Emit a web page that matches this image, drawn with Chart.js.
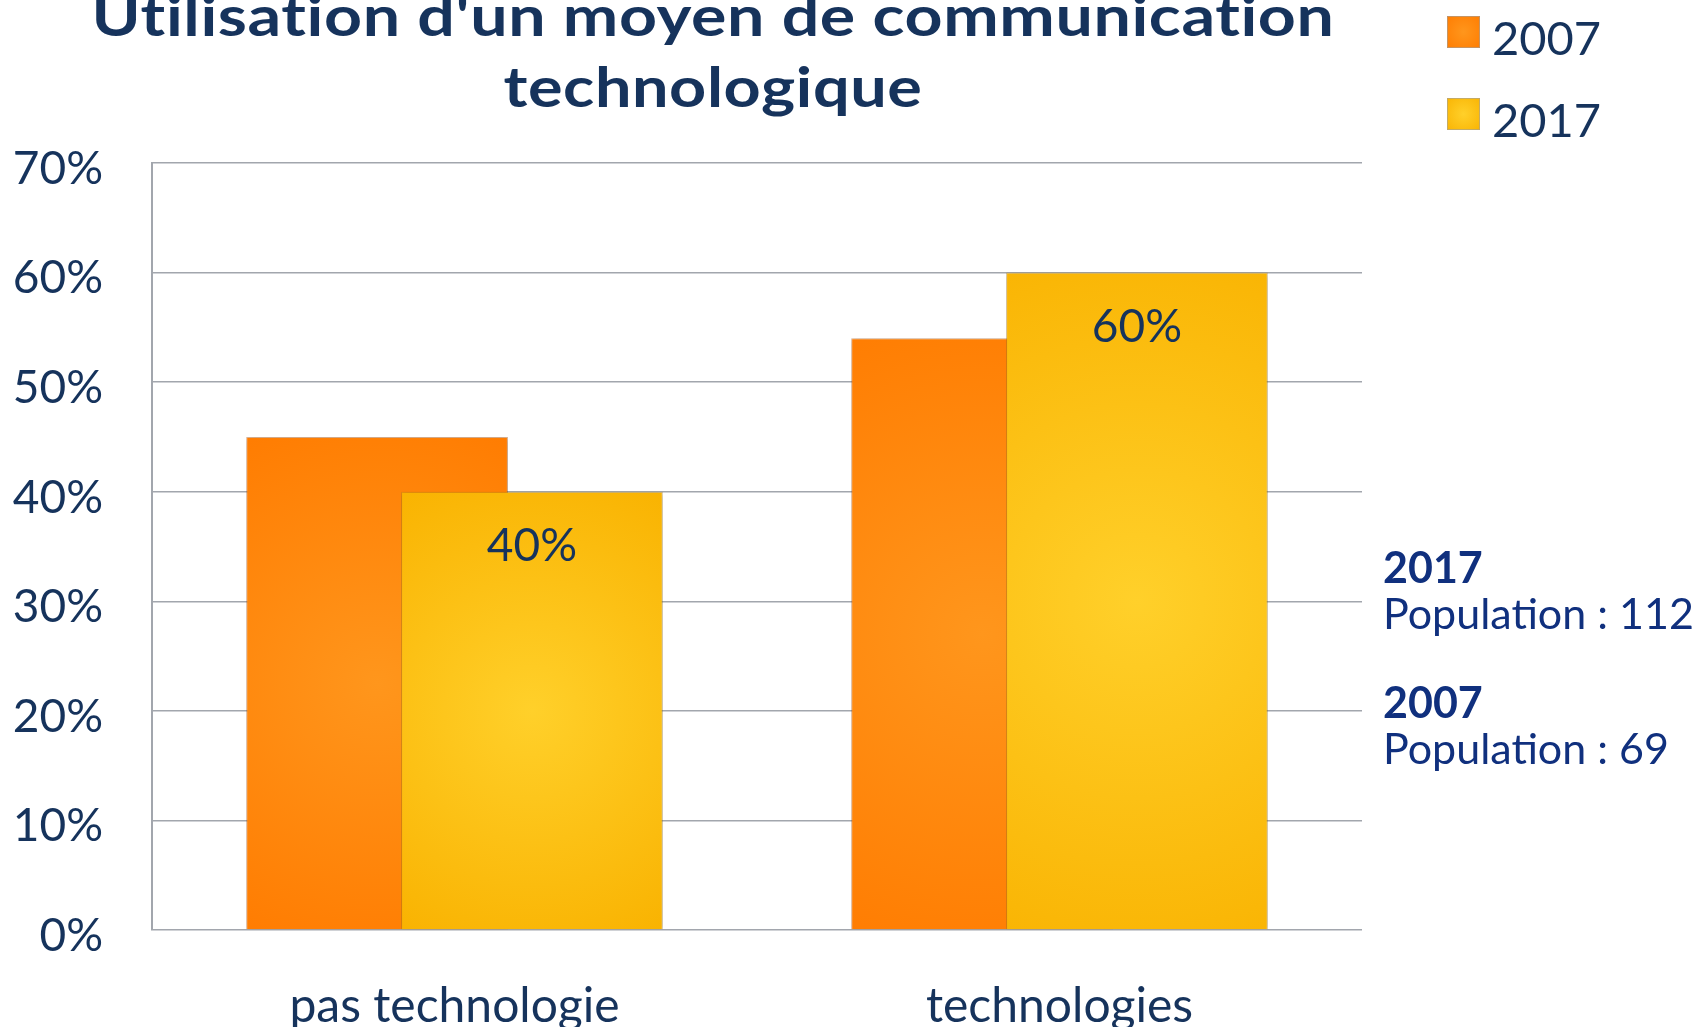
<!DOCTYPE html>
<html><head><meta charset="utf-8">
<script src="https://cdn.jsdelivr.net/npm/chart.js@4.4.1/dist/chart.umd.min.js"></script>
<style>html,body{margin:0;padding:0;background:#fff;overflow:hidden}canvas{display:block}</style>
</head><body>
<canvas id="c" width="1698" height="1027"></canvas>
<script>
const titleLines = ["Utilisation d'un moyen de communication", "technologique"];
const categories = ["pas technologie", "technologies"];
const seriesNames = ["2007", "2017"];
const values2007 = [45, 54];
const values2017 = [40, 60];
const yTickLabels = ["0%", "10%", "20%", "30%", "40%", "50%", "60%", "70%"];
const noteYears = ["2017", "2007"];
const noteTexts = ["Population : 112", "Population : 69"];

const NAVY = '#16335c', BLUE = '#10307e', GRID = '#a2a6ad';
const palette = [
  {inner: '#ff961c', outer: '#ff7b00', border: 'rgba(190,95,20,0.45)'},
  {inner: '#ffd02a', outer: '#f9b200', border: 'rgba(190,140,30,0.45)'}
];

function radial(ctx, x0, y0, x1, y1, p, k) {
  const cx = (x0 + x1) / 2, cy = (y0 + y1) / 2;
  const r = Math.max(Math.abs(x1 - x0), Math.abs(y1 - y0)) * (k || 0.6);
  const g = ctx.createRadialGradient(cx, cy, 0, cx, cy, r);
  g.addColorStop(0, p.inner); g.addColorStop(1, p.outer);
  return g;
}

function stretchedText(ctx, text, cx, y, targetW) {
  ctx.save();
  try { ctx.letterSpacing = '0.5px'; } catch (e) {}
  const w = ctx.measureText(text).width;
  const k = targetW / w;
  ctx.translate(cx, y);
  ctx.scale(k, 1);
  ctx.textAlign = 'center';
  ctx.fillText(text, 0, 0);
  ctx.restore();
}

const customPlugin = {
  id: 'custom',
  beforeDatasetsDraw(chart) {
    const ctx = chart.ctx;
    chart.data.datasets.forEach((ds, i) => {
      const meta = chart.getDatasetMeta(i);
      if (meta.hidden) return;
      meta.data.forEach(el => {
        const l = el.x - el.width / 2, r = el.x + el.width / 2;
        const t = Math.min(el.y, el.base), b = Math.max(el.y, el.base);
        try { el.options.backgroundColor = radial(ctx, l, t, r, b, palette[i]); } catch (e) {}
      });
      ctx.save();
      ctx.shadowColor = 'rgba(0,0,0,0.22)'; ctx.shadowBlur = 6; ctx.shadowOffsetX = 1; ctx.shadowOffsetY = 1;
      meta.controller.draw();
      ctx.restore();
    });
    return false;
  },
  afterDraw(chart) {
    const ctx = chart.ctx;
    ctx.save();
    // title
    ctx.fillStyle = NAVY; ctx.textBaseline = 'alphabetic';
    ctx.font = 'bold 56px Lato';
    stretchedText(ctx, titleLines[0], 713, 36, 1243);
    stretchedText(ctx, titleLines[1], 713, 107, 419);
    // data labels (2017)
    ctx.textAlign = 'center';
    const meta = chart.getDatasetMeta(1);
    ctx.font = '46px Lato';
    meta.data.forEach((el, j) => {
      ctx.fillText(values2017[j] + '%', el.x, el.y + 69);
    });
    // legend
    ctx.textAlign = 'left';
    seriesNames.forEach((n, i) => {
      const bx = 1447, by = 16 + i * 82;
      ctx.fillStyle = radial(ctx, bx, by, bx + 33, by + 32, palette[i], 0.75);
      ctx.fillRect(bx, by, 33, 32);
      ctx.strokeStyle = 'rgba(160,160,160,0.6)'; ctx.lineWidth = 1;
      ctx.strokeRect(bx + 0.5, by + 0.5, 32, 31);
      ctx.fillStyle = NAVY; ctx.font = '47px Lato';
      ctx.fillText(n, 1492, 55 + i * 82);
    });
    // notes
    ctx.fillStyle = BLUE;
    noteYears.forEach((y, i) => {
      const base = i === 0 ? 583 : 718;
      ctx.font = 'bold 43px Lato';
      ctx.fillText(y, 1383, base);
      ctx.font = '43px Lato';
      ctx.fillText(noteTexts[i], 1383, base + 46);
    });
    ctx.restore();
  }
};

function build() {
  new Chart(document.getElementById('c'), {
    type: 'bar',
    data: {
      labels: categories,
      datasets: [
        {label: seriesNames[0], data: values2007,
         backgroundColor: c => palette[c.datasetIndex].outer, borderColor: palette[0].border, borderWidth: 1},
        {label: seriesNames[1], data: values2017,
         backgroundColor: c => palette[c.datasetIndex].outer, borderColor: palette[1].border, borderWidth: 1}
      ]
    },
    options: {
      responsive: false, animation: false,
      layout: {padding: {top: 163, right: 336, left: 0, bottom: 0}},
      plugins: {legend: {display: false}, title: {display: false}, tooltip: {enabled: false}},
      datasets: {bar: {categoryPercentage: 0.512, barPercentage: 1.69}},
      scales: {
        x: {
          grid: {display: false}, border: {display: false},
          ticks: {font: {family: 'Lato', size: 48}, color: NAVY, padding: 40},
          afterFit(s) { s.height = 97; }
        },
        y: {
          min: 0, max: 70,
          ticks: {stepSize: 10, callback: v => yTickLabels[Math.round(v / 10)], font: {family: 'Lato', size: 46}, color: NAVY, padding: 49, labelOffset: 6},
          grid: {color: GRID, lineWidth: 1.5, drawTicks: false},
          border: {display: true, color: GRID, width: 2},
          afterFit(s) { s.width = 152; }
        }
      }
    },
    plugins: [customPlugin]
  });
}
Promise.all([
  document.fonts.load('bold 56px Lato'), document.fonts.load('44px Lato')
]).then(build, build);
</script>
</body></html>
